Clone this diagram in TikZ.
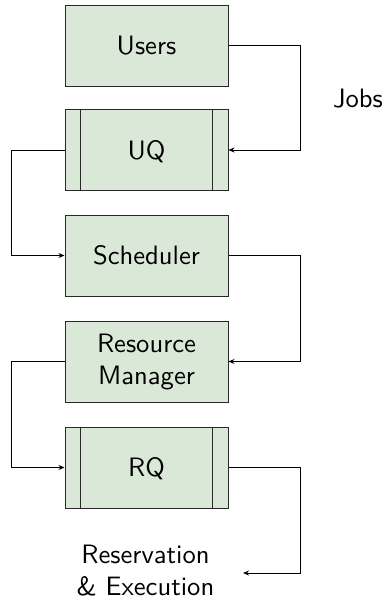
\documentclass[tikz,border=0pt]{standalone}
\usepackage{graphicx}
\usetikzlibrary{arrows.meta}
\renewcommand{\familydefault}{\sfdefault}
\definecolor{boxfill}{RGB}{218,232,216}
\definecolor{boxline}{RGB}{40,40,40}
% text set at 10pt design size, then enlarged; optional argument lowers it
\newcommand{\bigtxt}[2][0pt]{\raisebox{-#1}[\height][\depth]{\scalebox{2.66}{\fontsize{10}{12}\selectfont\begin{tabular}{@{}c@{}}#2\end{tabular}}}}
\tikzset{
  block/.style={draw=boxline, line width=1pt, fill=boxfill, minimum width=163pt,
    minimum height=81pt, inner sep=0pt, align=center},
  label/.style={inner sep=0pt, align=center},
  flow/.style={draw=black, line width=0.8pt, -{Stealth[length=6pt,width=5pt]}}
}
\begin{document}
\begin{tikzpicture}[x=1pt,y=-1pt]
\useasboundingbox (0,0) rectangle (385,608);
% stages of the pipeline
\node[block] (users) at (146.5,45.5) {\bigtxt[3pt]{Users}};
\node[block] (uq) at (146.5,150) {\bigtxt[3pt]{UQ}};
\node[block] (sched) at (146.5,255.5) {\bigtxt[3pt]{Scheduler}};
\node[block] (rm) at (146.5,361.5) {\bigtxt[1pt]{Resource\\Manager}};
\node[block] (rq) at (146.5,467.5) {\bigtxt[3pt]{RQ}};
% queue markers
\foreach \q in {uq,rq}{
  \draw[boxline, line width=1pt] ([xshift=16pt]\q.north west) -- ([xshift=16pt]\q.south west);
  \draw[boxline, line width=1pt] ([xshift=-16pt]\q.north east) -- ([xshift=-16pt]\q.south east);
}
\node[label] (jobs) at (358,101.5) {\bigtxt{Jobs}};
\node[label] (exec) at (145.5,573) {\bigtxt{Reservation\\\& Execution}};
\coordinate (execin) at (243,573);
% connectors
\draw[flow] (users.east) -- ++(72,0) |- (uq.east);
\draw[flow] (uq.west) -- ++(-53,0) |- (sched.west);
\draw[flow] (sched.east) -- ++(72,0) |- (rm.east);
\draw[flow] (rm.west) -- ++(-53,0) |- (rq.west);
\draw[flow] (rq.east) -- ++(72,0) |- (execin);
\end{tikzpicture}
\end{document}
